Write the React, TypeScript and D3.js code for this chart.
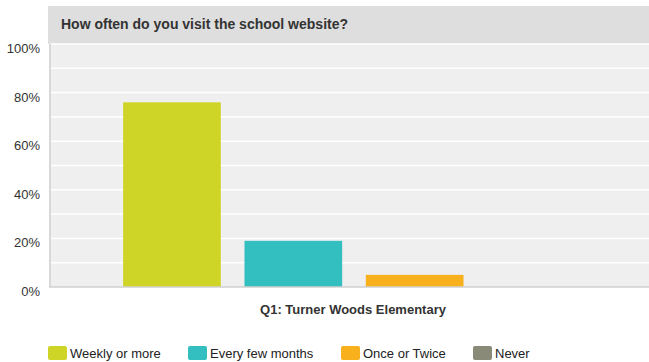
import React from "react";
import * as d3 from "d3";

const categories = ["Weekly or more", "Every few months", "Once or Twice", "Never"];
const values = [76, 19, 5, 0];
const colors = ["#cfd527", "#33bec0", "#f8b01d", "#8a8a78"];
const yTicks = [0, 20, 40, 60, 80, 100];
const gridTicks = [10, 20, 30, 40, 50, 60, 70, 80, 90, 100];
const groupLabel = "Q1: Turner Woods Elementary";
const title = "How often do you visit the school website?";

export default function App() {
  const W = 649, H = 362;
  const left = 50, right = 658, top = 44, bottom = 287;
  const y = d3.scaleLinear().domain([0, 100]).range([bottom, top]);
  const x = d3.scaleBand<string>().domain(categories).range([111, 597]).paddingInner(0.195).paddingOuter(0.1);
  const font = "'Liberation Sans', Arial, Helvetica, sans-serif";
  const legendX = [48, 188, 341, 473];
  return (
    <svg width={W} height={H} style={{ position: "absolute", left: 0, top: 0, fontFamily: font }}>
      <rect x={48} y={6} width={W - 48} height={38} fill="#dedede" />
      <text x={61} y={29} fontSize={14} fontWeight="bold" fill="#333">{title}</text>
      <rect x={left} y={top} width={right - left} height={bottom - top} fill="#efefef" />
      {gridTicks.map(t => (
        <line key={t} x1={left} x2={right} y1={y(t)} y2={y(t)} stroke="#fff" strokeWidth={1.5} />
      ))}
      <line x1={left} x2={left} y1={top} y2={bottom} stroke="#d8d8d8" strokeWidth={2} />
      {categories.map((c, i) => (
        <rect key={c} x={x(c)} y={y(values[i])} width={x.bandwidth()} height={bottom - y(values[i])} fill={colors[i]} />
      ))}
      <line x1={left - 1} x2={right} y1={bottom} y2={bottom} stroke="#d0d0d0" strokeWidth={1.5} />
      {yTicks.map(t => (
        <text key={t} x={40} y={y(t) + 9} textAnchor="end" fontSize={13} fill="#333">{t}%</text>
      ))}
      <text x={353} y={314} textAnchor="middle" fontSize={13} fontWeight="bold" fill="#333">{groupLabel}</text>
      {categories.map((c, i) => (
        <g key={c} transform={`translate(${legendX[i]},346)`}>
          <rect x={0} y={0} width={19} height={14} rx={2} fill={colors[i]} />
          <text x={22} y={11.5} fontSize={13} fill="#222">{c}</text>
        </g>
      ))}
    </svg>
  );
}
